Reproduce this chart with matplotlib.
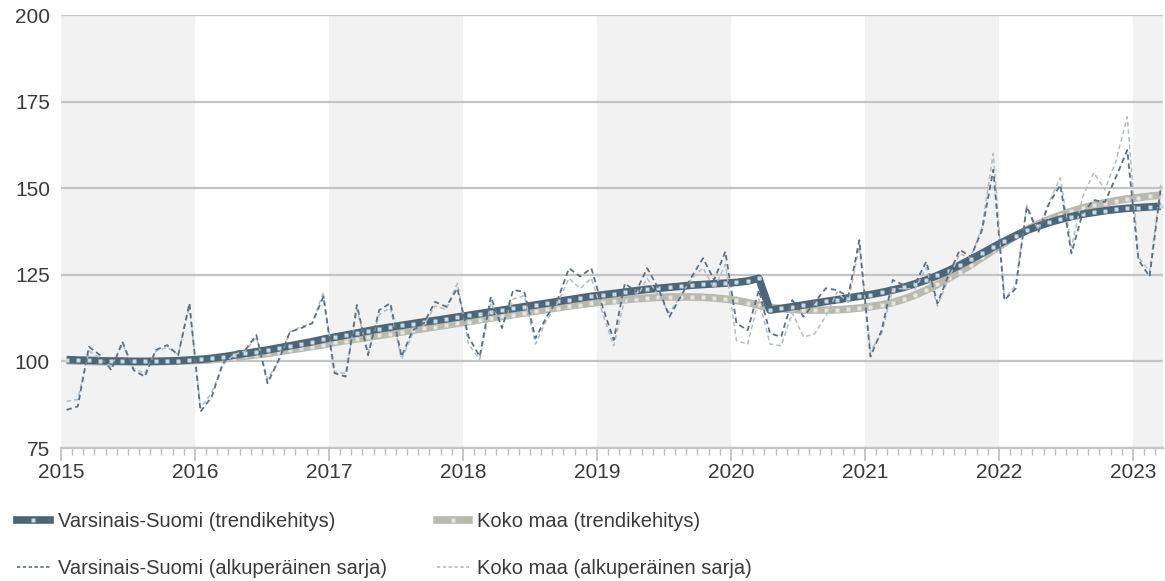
import matplotlib
matplotlib.use("Agg")
import matplotlib.pyplot as plt
from matplotlib.lines import Line2D
import numpy as np

plt.rcParams['font.family'] = ['Liberation Sans', 'DejaVu Sans']

# ---- data (monthly, Jan 2015 .. Mar 2023) ----
start_year = 2015
years = [2015, 2016, 2017, 2018, 2019, 2020, 2021, 2022, 2023]
yticks = [75, 100, 125, 150, 175, 200]

vs_orig = [
    86, 87, 104.2, 101.8, 97.5, 105.7, 97.5, 95.6, 103.3, 104.7, 101.8, 116.8,
    85.5, 89.8, 99.5, 102.8, 103.3, 107.6, 93.7, 100.4, 108.5, 109.6, 111, 118.7,
    96.6, 95.6, 116.3, 101.8, 114.8, 116.8, 101.4, 109, 111, 117.2, 115.8, 121.1,
    107.1, 101.4, 118.7, 109.6, 120.6, 120.1, 106.7, 112.9, 118, 126.9, 124.5, 126.9,
    115.8, 106.2, 122.5, 120.1, 126.9, 121.1, 112.9, 118.7, 124.5, 129.8, 123.5, 131.7,
    111, 109, 120.6, 108.1, 107.1, 117.7, 112.9, 117, 121.1, 120.6, 118.7, 135,
    101.4, 109, 123.5, 122, 122.5, 128.8, 116.8, 125, 132.2, 130.2, 138, 155.3,
    117.7, 121, 144.7, 137, 145.6, 150.9, 131.2, 142.8, 146.6, 146, 153.3, 161,
    129.3, 124.5, 150,
]

km_orig = [
    88.5, 89, 103, 101, 98.5, 105, 98, 96.5, 103, 104, 102, 116,
    86.5, 91, 99, 102, 103, 107, 95, 100, 108.5, 110, 111, 120,
    97, 96.5, 115, 102.5, 113.5, 115.5, 100.6, 108, 110.5, 116, 115, 122.5,
    105, 100.5, 117, 110, 118, 119, 105, 112, 117, 124, 121, 124,
    114, 104.5, 118, 118, 124, 119, 114, 119, 124, 127, 121, 128,
    106, 105, 118, 105, 104.5, 114, 107, 108, 113, 120, 117, 133,
    103, 108, 121, 121, 121, 127, 116, 124, 131, 130, 139, 160,
    118, 122, 145, 138, 146, 153, 133, 147.5, 154.5, 149.5, 158, 170.6,
    130, 126, 151,
]

vs_trend = [
    100.5, 100.4, 100.3, 100.2, 100.1, 100.1, 100.0, 100.0, 100.0, 100.1, 100.2, 100.4,
    100.6, 100.9, 101.3, 101.8, 102.3, 102.8, 103.3, 103.9, 104.5, 105.1, 105.7, 106.4,
    107.0, 107.6, 108.2, 108.8, 109.4, 109.9, 110.4, 110.9, 111.4, 111.8, 112.3, 112.8,
    113.3, 113.8, 114.3, 114.8, 115.3, 115.8, 116.3, 116.8, 117.3, 117.8, 118.3, 118.8,
    119.2, 119.6, 120.0, 120.4, 120.8, 121.1, 121.4, 121.7, 122.0, 122.2, 122.4, 122.6,
    122.8, 123.2, 124.0, 114.8, 115.3, 115.8, 116.3, 116.8, 117.3, 117.8, 118.3, 118.8,
    119.3, 119.9, 120.6, 121.4, 122.4, 123.5, 124.8, 126.2, 127.8, 129.5, 131.2, 133.0,
    134.7, 136.3, 137.8, 139.0, 140.1, 141.0, 141.8, 142.5, 143.0, 143.5, 143.9, 144.2,
    144.4, 144.6, 144.8,
]

km_trend = [
    100.2, 100.1, 100.0, 99.9, 99.9, 99.9, 99.9, 99.9, 100.0, 100.0, 100.1, 100.2,
    100.3, 100.5, 100.8, 101.1, 101.5, 101.9, 102.3, 102.8, 103.3, 103.8, 104.3, 104.8,
    105.5, 106.0, 106.5, 107.0, 107.5, 108.0, 108.5, 109.0, 109.5, 110.0, 110.5, 111.0,
    111.5, 112.0, 112.5, 113.0, 113.5, 114.0, 114.5, 115.0, 115.5, 116.0, 116.4, 116.8,
    117.2, 117.5, 117.8, 118.1, 118.3, 118.5, 118.6, 118.6, 118.6, 118.5, 118.3, 118.0,
    117.6, 117.0, 116.2, 115.6, 115.2, 115.0, 114.8, 114.8, 114.8, 114.9, 115.1, 115.4,
    115.8, 116.3, 117.0, 118.0, 119.2, 120.6, 122.2, 124.0, 125.9, 127.9, 130.0, 132.1,
    134.2, 136.2, 138.0, 139.6, 141.0, 142.2, 143.3, 144.3, 145.1, 145.8, 146.4, 146.9,
    147.3, 147.7, 148.0,
]

labels = ["Varsinais-Suomi (trendikehitys)", "Varsinais-Suomi (alkuperäinen sarja)",
          "Koko maa (trendikehitys)", "Koko maa (alkuperäinen sarja)"]

# ---- styling ----
c_vs = '#4b6679'
c_vs_dot = '#c9dbe6'
c_km = '#b9b9ad'
c_km_dot = '#e6e6de'
c_vs_orig = '#5f7080'
c_km_orig = '#b4bcc4'
band = '#f2f2f2'
grid_c = '#c4c4c4'
txt = '#3a3a3a'
fs = 14.5
fs_tick = 15

n = len(vs_orig)
x = start_year + (np.arange(n) + 0.5) / 12.0

fig = plt.figure(figsize=(11.65, 5.81), dpi=100)
ax = fig.add_axes([61/1165, 1 - 448/581, (1163-61)/1165, (448-15)/581])

xmax = 2023.225
ax.set_xlim(2015, xmax)
ax.set_ylim(75, 200)

for i, yr in enumerate(years):
    if i % 2 == 0:
        ax.axvspan(yr, min(yr + 1, xmax), color=band, zorder=0, lw=0)

for yv in yticks:
    ax.axhline(yv, color=grid_c, lw=1.6, zorder=1)

# trends
ax.plot(x, km_trend, color=c_km, lw=5.5, zorder=3, solid_capstyle='butt')
ax.plot(x, km_trend, ls='none', marker='s', ms=2.6, mfc=c_km_dot, mec='none', zorder=3.1)
ax.plot(x, vs_trend, color=c_vs, lw=5.5, zorder=4, solid_capstyle='butt')
ax.plot(x, vs_trend, ls='none', marker='s', ms=2.6, mfc=c_vs_dot, mec='none', zorder=4.1)

# original series
ax.plot(x, km_orig, color=c_km_orig, lw=1.1, ls=(0, (3, 2)), zorder=5)
ax.plot(x, vs_orig, color=c_vs_orig, lw=1.3, ls=(0, (3, 2)), zorder=6)

for s in ['top', 'right', 'left']:
    ax.spines[s].set_visible(False)
ax.spines['bottom'].set_color(grid_c)
ax.spines['bottom'].set_linewidth(1.6)

ax.set_yticks(yticks)
ax.set_yticklabels([str(v) for v in yticks], fontsize=fs_tick, color=txt)
ax.tick_params(axis='y', length=0, pad=8)

ax.set_xticks(years)
ax.set_xticklabels([str(y) for y in years], fontsize=fs_tick, color=txt)
minor = [start_year + m / 12.0 for m in range(0, 100) if m % 12 != 0 and start_year + m / 12.0 < xmax]
ax.set_xticks(minor, minor=True)
ax.tick_params(axis='x', which='major', length=9, width=1.2, color='#bdbdbd', pad=2)
ax.tick_params(axis='x', which='minor', length=5, width=1.0, color='#bdbdbd')

handles = [
    Line2D([], [], color=c_vs, lw=5.5, marker='s', ms=2.6, mfc=c_vs_dot, mec='none'),
    Line2D([], [], color=c_vs_orig, lw=1.2, ls=(0, (2, 1.5))),
    Line2D([], [], color=c_km, lw=5.5, marker='s', ms=2.6, mfc=c_km_dot, mec='none'),
    Line2D([], [], color=c_km_orig, lw=1.2, ls=(0, (2, 1.5))),
]
leg = fig.legend(handles, labels, ncol=2, loc='upper left', bbox_to_anchor=(0.008, 0.132),
                 frameon=False, fontsize=fs, handlelength=1.6, handletextpad=0.4,
                 columnspacing=2.5, labelspacing=1.35, borderaxespad=0, numpoints=1)
for t in leg.get_texts():
    t.set_color(txt)

fig.savefig('out.png', dpi=100)
